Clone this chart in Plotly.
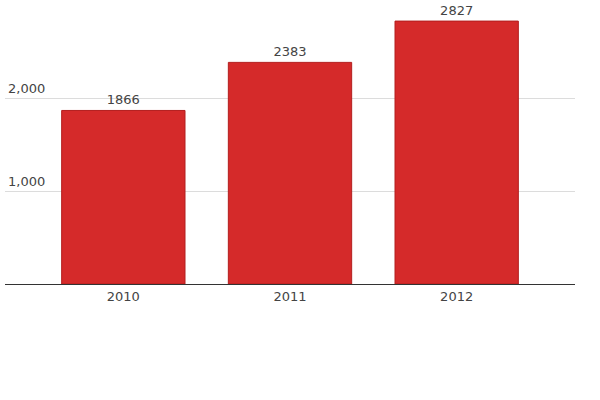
import plotly.graph_objects as go

years = ["2010", "2011", "2012"]
values = [1866, 2383, 2827]
y_ticks = [1000, 2000]

fig = go.Figure()
fig.add_trace(go.Bar(
    x=years, y=values,
    marker=dict(color="#d52a2a", line=dict(color="#b31e1e", width=1)),
    width=0.74,
    text=values, textposition="outside", cliponaxis=False,
    textfont=dict(family="DejaVu Sans", size=13, color="#444"),
))

fig.update_layout(
    width=600, height=400,
    margin=dict(l=5, r=25, t=5, b=116),
    plot_bgcolor="white", paper_bgcolor="white",
    showlegend=False,
    font=dict(family="DejaVu Sans", size=13, color="#444"),
    xaxis=dict(range=[-0.71, 2.71], showline=True, linecolor="#333", linewidth=1,
               ticks="", showgrid=False, tickfont=dict(size=13, color="#444")),
    yaxis=dict(range=[0, 3000], tickvals=y_ticks, tickformat=",",
               ticklabelposition="inside top", showgrid=True, gridcolor="#dcdcdc",
               zeroline=False, showline=False, ticks="",
               tickfont=dict(size=13, color="#444")),
)

# page body has a default 8px margin, drop it so the chart sits at 0,0
fig.write_html("out.html", config={"displayModeBar": False},
               post_script="document.body.style.margin='0px';")
